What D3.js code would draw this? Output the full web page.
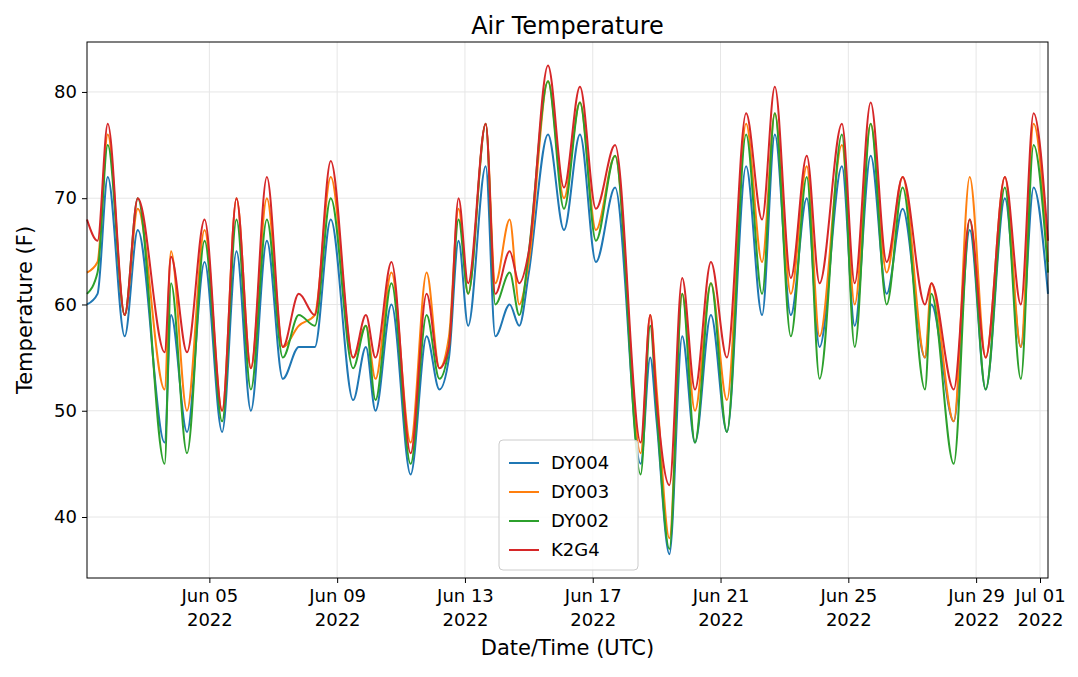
<!DOCTYPE html>
<meta charset="utf-8">
<style>
body { margin: 0; background: #fff; font-family: "DejaVu Sans", sans-serif; }
.grid line { stroke: #e6e6e6; stroke-width: 1px; }
.axis text { font-size: 18px; fill: #000; font-family: "DejaVu Sans", sans-serif; }
.line { fill: none; stroke-width: 2px; }
</style>
<body>
<script src="https://cdn.jsdelivr.net/npm/d3@7"></script>
<script>
// days since Jun 1 2022 00:00 UTC
var days = [0.17,0.5,0.82,1.35,1.76,2.6,2.8,3.3,3.85,4.4,4.85,5.3,5.8,6.3,6.8,7.3,7.8,8.5,8.9,9.2,9.7,10.3,10.8,11.2,11.5,11.8,12.1,12.65,12.95,13.4,13.7,14.0,14.6,15.1,15.6,16.1,16.7,17.5,17.8,18.0,18.4,18.8,19.2,19.7,20.2,20.8,21.3,21.7,22.2,22.7,23.1,23.8,24.2,24.7,25.2,25.7,26.4,26.6,27.3,27.8,28.3,28.9,29.4,29.8,30.25];
var dy004 = [60,61,72,57,67,47,59,48,64,48,65,50,66,53,56,56,68,51,56,50,60,44,57,52,55,66,58,73,57,60,58,63,76,67,76,64,71,45,55,49,36.5,57,47,59,48,73,59,76,59,70,56,73,58,74,61,69,55,60,49,67,52,70,56,71,61];
var dy003 = [63,64,76,59,69,52,65,50,67,50,70,54,70,56,58,59,72,55,58,53,63,47,63,54,57,69,61,77,62,68,60,64,81,70,79,67,74,46,59,52,38,61,50,62,51,77,64,78,61,73,57,75,60,77,63,72,55,62,49,72,55,72,56,77,64];
var dy002 = [61,63,75,59,70,45,62,46,66,49,68,52,68,55,59,58,70,54,58,51,62,45,59,53,56,68,61,77,60,63,59,65,81,69,79,66,74,44,58,50,37,61,47,62,48,76,61,78,57,72,53,76,56,77,60,71,52,61,45,68,52,71,53,75,63];
var k2g4 = [68,66,77,59,70,55.5,64.5,55.5,68,50,70,54,72,56,61,59,73.5,55,59,55,64,46,61,54,56,70,62,77,61,65,62,65,82.5,71,80.5,69,75,47,59,51,43,62.5,52,64,55,78,68,80.5,62.5,74,62,77,62,79,64,72,60,62,52,68,55,72,60,78,66];
var yTicks = [40, 50, 60, 70, 80];
var xTickDates = ["2022-06-05","2022-06-09","2022-06-13","2022-06-17","2022-06-21","2022-06-25","2022-06-29","2022-07-01"];

var series = [
  {name: "DY004", color: "#1f77b4", values: dy004},
  {name: "DY003", color: "#ff7f0e", values: dy003},
  {name: "DY002", color: "#2ca02c", values: dy002},
  {name: "K2G4", color: "#d62728", values: k2g4}
];

var W = 1078, H = 677,
    m = {top: 42, right: 30, bottom: 99, left: 87},
    w = W - m.left - m.right, h = H - m.top - m.bottom;

var t0 = Date.UTC(2022, 5, 1);
function toDate(d) { return new Date(t0 + d * 864e5); }

var x = d3.scaleUtc().domain([toDate(0.17), toDate(30.25)]).range([0, w]);
var y = d3.scaleLinear().domain([34.26, 84.7]).range([h, 0]);

var svg = d3.select("body").append("svg").attr("width", W).attr("height", H)
  .append("g").attr("transform", "translate(" + m.left + "," + m.top + ")");

var xt = xTickDates.map(function(s) { return new Date(s + "T00:00:00Z"); });

svg.append("g").attr("class", "grid").selectAll("line.v").data(xt).enter().append("line")
  .attr("x1", x).attr("x2", x).attr("y1", 0).attr("y2", h);
svg.append("g").attr("class", "grid").selectAll("line.h").data(yTicks).enter().append("line")
  .attr("x1", 0).attr("x2", w).attr("y1", y).attr("y2", y);

var line = d3.line().curve(d3.curveMonotoneX)
  .x(function(d, i) { return x(toDate(days[i])); })
  .y(function(d) { return y(d); });
series.forEach(function(s) {
  svg.append("path").attr("class", "line").attr("stroke", s.color).attr("d", line(s.values));
});

svg.append("rect").attr("width", w).attr("height", h).attr("fill", "none").attr("stroke", "#000");

var fmt = d3.utcFormat("%b %d");
var xa = svg.append("g").attr("class", "axis").attr("transform", "translate(0," + h + ")")
  .call(d3.axisBottom(x).tickValues(xt).tickSize(5).tickPadding(5).tickFormat(""));
xa.select(".domain").remove();
xa.selectAll(".tick").append("text").attr("text-anchor", "middle")
  .each(function(d) {
    var t = d3.select(this);
    t.append("tspan").attr("x", 0).attr("y", 24).text(fmt(d));
    t.append("tspan").attr("x", 0).attr("y", 48).text(d3.utcFormat("%Y")(d));
  });

var ya = svg.append("g").attr("class", "axis")
  .call(d3.axisLeft(y).tickValues(yTicks).tickSize(5).tickPadding(5));
ya.select(".domain").remove();

svg.append("text").attr("x", w / 2).attr("y", -8).attr("text-anchor", "middle")
  .style("font-size", "24px").text("Air Temperature");
svg.append("text").attr("x", w / 2).attr("y", h + 77).attr("text-anchor", "middle")
  .style("font-size", "21px").text("Date/Time (UTC)");
svg.append("text").attr("transform", "translate(-55," + h / 2 + ") rotate(-90)")
  .attr("text-anchor", "middle").style("font-size", "21px").text("Temperature (F)");

var lg = svg.append("g").attr("transform", "translate(412,398)");
lg.append("rect").attr("width", 139).attr("height", 130).attr("rx", 4)
  .attr("fill", "#fff").attr("fill-opacity", 0.85).attr("stroke", "#ccc");
series.forEach(function(s, i) {
  var g = lg.append("g").attr("transform", "translate(10," + (23 + i * 29) + ")");
  g.append("line").attr("x1", 0).attr("x2", 30).attr("stroke", s.color).attr("stroke-width", 2);
  g.append("text").attr("x", 42).attr("y", 6).style("font-size", "18px").text(s.name);
});
</script>
</body>
